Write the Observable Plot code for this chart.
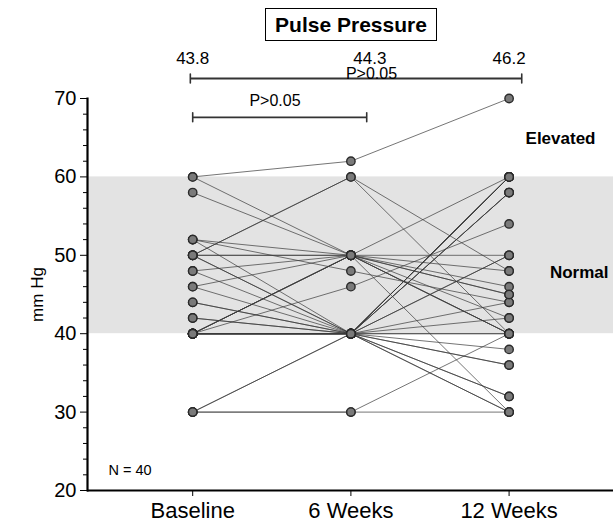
<!DOCTYPE html>
<html>
<head>
<meta charset="utf-8">
<script src="https://cdn.jsdelivr.net/npm/d3@7"></script>
<script src="https://cdn.jsdelivr.net/npm/@observablehq/plot@0.6"></script>
<style>
  body { margin: 0; background: #fff; font-family: "Liberation Sans", Arial, sans-serif; }
  #wrap { position: relative; width: 613px; height: 524px; }
  #title { position: absolute; left: 265px; top: 8px; width: 170px; height: 31px; border: 1.5px solid #000;
           font-weight: bold; font-size: 21px; text-align: center; line-height: 31px; }
  #chart { position: absolute; left: 0; top: 45px; }
</style>
</head>
<body>
<div id="wrap">
  <div id="title">Pulse Pressure</div>
  <div id="chart"></div>
</div>
<script>
const times = ["Baseline", "6 Weeks", "12 Weeks"];
const baseline = [60,60,58,52,52,50,50,50,50,50,50,48,46,44,42,40,40,40,40,40,30,30,30,40,40,40,44,42,40,40,48,46,40,40,40,52,40,30,40,40];
const week6    = [62,50,50,50,48,60,60,50,50,40,40,40,50,40,40,40,40,46,50,40,40,30,30,40,40,40,40,40,50,40,50,40,50,50,40,40,40,40,40,40];
const week12   = [70,48,45,46,44,48,40,60,50,30,36,32,30,38,42,60,58,54,40,40,60,40,30,58,60,30,50,44,42,60,40,58,45,40,50,40,36,60,32,60];
const means = ["43.8", "44.3", "46.2"];
const meanPos = [0, 1.12, 2];            // category-index positions of the mean labels
const yTicks = [20, 30, 40, 50, 60, 70];
const yMinor = d3.range(20, 71, 2).filter(v => v % 10 !== 0);
const band = [{lo: 40, hi: 60}];
// significance brackets (from / to in category-index units)
const brackets = [
  {from: -0.015, to: 2.08, y: 72.55, label: "P>0.05", lx: 1.13, ly: 73.15},
  {from: 0, to: 1.1, y: 67.6, label: "P>0.05", lx: 0.52, ly: 69.7}
];

const tidy = baseline.flatMap((b, i) => [
  {id: i, t: 0, v: b},
  {id: i, t: 1, v: week6[i]},
  {id: i, t: 2, v: week12[i]}
]);
const caps = brackets.flatMap(d => [{x: d.from, y: d.y}, {x: d.to, y: d.y}]);
const capShape = {draw(ctx, l) { ctx.moveTo(0, 0); ctx.lineTo(0, -l); }};

const font = "Liberation Sans, Arial, sans-serif";

const chart = Plot.plot({
  width: 613,
  height: 479,
  marginLeft: 87,
  marginRight: 0,
  marginTop: 53,
  marginBottom: 34,
  style: {fontFamily: font, color: "#000", background: "#fff"},
  x: {type: "linear", domain: [-0.665, 2.66], label: null},
  y: {domain: [20, 70], label: null},
  marks: [
    Plot.rectY(band, {y1: "lo", y2: "hi", fill: "#e3e3e3"}),
    Plot.line(tidy, {x: "t", y: "v", z: "id", stroke: "#3a3a3a", strokeWidth: 1, strokeOpacity: 0.7}),
    Plot.dot(tidy, {x: "t", y: "v", r: 4.2, fill: "#7a7a7a", stroke: "#2a2a2a", strokeWidth: 1.4}),
    Plot.axisY({ticks: yTicks, tickSize: 7, tickPadding: 4, fontSize: 20, label: null, tickFormat: d => d}),
    Plot.axisY({ticks: yMinor, tickSize: 4, tickFormat: () => "", label: null}),
    Plot.axisY({ticks: [], label: "mm Hg", labelAnchor: "center", labelArrow: "none", labelOffset: 57, fontSize: 17}),
    Plot.axisX({ticks: [0, 1, 2], tickFormat: i => times[i], tickSize: 6, tickPadding: 6, fontSize: 22, label: null}),
    Plot.ruleY([20], {stroke: "#000", strokeWidth: 2.2}),
    Plot.frame({anchor: "left", stroke: "#000", strokeWidth: 2.2}),
    Plot.text(means, {x: (d, i) => meanPos[i], y: () => 75.1, text: d => d, fontSize: 17}),
    Plot.link(brackets, {x1: "from", x2: "to", y1: "y", y2: "y", stroke: "#333", strokeWidth: 1.8}),
    Plot.vector(caps, {x: "x", y: "y", length: 9, anchor: "middle", shape: capShape, stroke: "#333", strokeWidth: 1.6}),
    Plot.text(brackets, {x: "lx", y: "ly", text: "label", fontSize: 16}),
    Plot.text(["Elevated"], {frameAnchor: "right", y: [64.9], text: d => d, textAnchor: "end", dx: -18, fontSize: 17, fontWeight: "bold"}),
    Plot.text(["Normal"], {frameAnchor: "right", y: [47.8], text: d => d, textAnchor: "end", dx: -5, fontSize: 17, fontWeight: "bold"}),
    Plot.text(["N = 40"], {frameAnchor: "left", y: [22.6], text: d => d, textAnchor: "start", dx: 21, fontSize: 14.5})
  ]
});
document.getElementById("chart").appendChild(chart);
</script>
</body>
</html>
